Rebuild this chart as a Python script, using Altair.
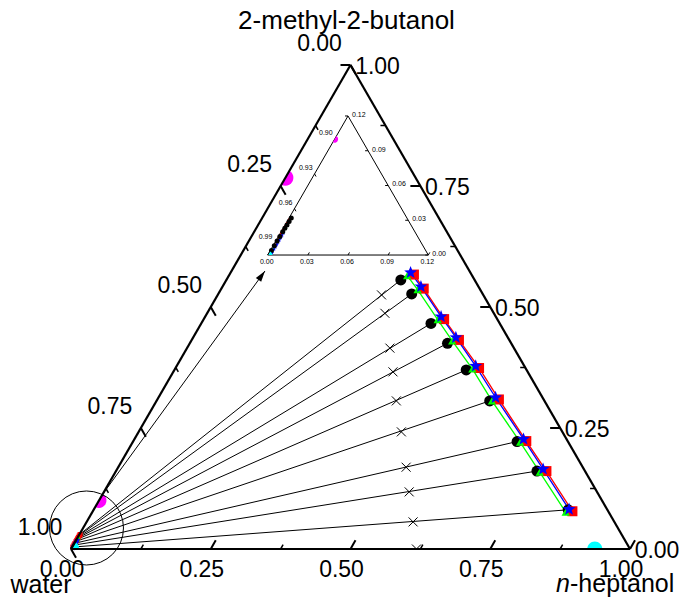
import math
import altair as alt
import numpy as np
import pandas as pd

S3 = math.sqrt(3) / 2

# ---------------- data (mole fractions) ----------------
# h = n-heptanol, b = 2-methyl-2-butanol, water = 1 - h - b
# organic phase, experimental (black circles)
exp_org_h = [0.312, 0.346, 0.411, 0.461, 0.522, 0.596, 0.687, 0.753, 0.849]
exp_org_b = [0.556, 0.527, 0.466, 0.425, 0.370, 0.306, 0.222, 0.161, 0.081]
# aqueous phase, experimental
exp_aq_h = [0.0016, 0.0015, 0.0014, 0.0013, 0.0012, 0.0011, 0.0010, 0.0009, 0.0008]
exp_aq_b = [0.032, 0.029, 0.026, 0.023, 0.020, 0.016, 0.012, 0.008, 0.004]
# feed compositions (crosses)
feed_h = [0.293, 0.318, 0.363, 0.393, 0.429, 0.470, 0.515, 0.546, 0.584]
feed_b = [0.525, 0.487, 0.415, 0.366, 0.306, 0.242, 0.169, 0.118, 0.056]
feed_bin_h = [0.618]
# model 1 (red squares)
red_org_h = [0.330, 0.362, 0.430, 0.478, 0.543, 0.611, 0.703, 0.770, 0.858]
red_org_b = [0.567, 0.538, 0.475, 0.432, 0.374, 0.309, 0.223, 0.161, 0.078]
red_aq_h = [0.0012] * 9
red_aq_b = [0.030, 0.027, 0.024, 0.021, 0.018, 0.015, 0.011, 0.008, 0.004]
# model 2 (green triangles)
green_org_h = [0.319, 0.352, 0.419, 0.467, 0.532, 0.600, 0.693, 0.759, 0.847]
green_org_b = [0.565, 0.536, 0.474, 0.430, 0.372, 0.306, 0.221, 0.159, 0.076]
green_aq_h = [0.0016] * 9
green_aq_b = [0.024, 0.021, 0.019, 0.016, 0.014, 0.011, 0.008, 0.006, 0.003]
# model 3 (blue stars)
blue_org_h = [0.322, 0.355, 0.422, 0.470, 0.535, 0.603, 0.696, 0.762, 0.850]
blue_org_b = [0.571, 0.542, 0.480, 0.437, 0.378, 0.313, 0.227, 0.165, 0.082]
blue_aq_h = [0.0022] * 9
blue_aq_b = [0.019, 0.017, 0.015, 0.013, 0.011, 0.009, 0.007, 0.005, 0.002]
# binary systems
cyan_h = [0.0005, 0.937]          # water / n-heptanol
magenta_b = [0.100, 0.767]        # water / 2-methyl-2-butanol

major = [0.0, 0.25, 0.5, 0.75, 1.0]
minor = [0.125, 0.375, 0.625, 0.875]
major_labels = ["0.00", "0.25", "0.50", "0.75", "1.00"]
inset_vals = [0.0, 0.03, 0.06, 0.09, 0.12]
inset_labels = ["0.00", "0.03", "0.06", "0.09", "0.12"]
inset_water = [0.99, 0.96, 0.93, 0.90]
inset_water_labels = ["0.99", "0.96", "0.93", "0.90"]

# annotation compositions
zoom_circle = (0.006, 0.0434)
arrow_from = (0.0003, 0.1151)
arrow_to = (0.0598, 0.5744)
INSET_ORIGIN = (0.0482, 0.6074)
INSET_K = 2.394

# ---------------- layout ----------------
W, H = 559, 484
PXU = W  # pixels per data unit
FONT = "Liberation Sans"


def tern(h, b):
    h = np.asarray(h, float)
    b = np.asarray(b, float)
    return h + b / 2, b * S3


def tern_in(h, b):
    x0, y0 = tern(*INSET_ORIGIN)
    x, y = tern(h, b)
    return x0 + INSET_K * x, y0 + INSET_K * y


xs = alt.Scale(domain=[0, 1], nice=False, zero=False)
ys = alt.Scale(domain=[0, S3], nice=False, zero=False)


def XE():
    return alt.X("x:Q", scale=xs, axis=None)


def YE():
    return alt.Y("y:Q", scale=ys, axis=None)


def pts(x, y, **mark):
    df = pd.DataFrame({"x": np.atleast_1d(x), "y": np.atleast_1d(y)})
    mark.setdefault("opacity", 1)
    return alt.Chart(df).mark_point(**mark).encode(x=XE(), y=YE())


def segs(x, y, x2, y2, **mark):
    df = pd.DataFrame({"x": np.atleast_1d(x), "y": np.atleast_1d(y),
                       "x2": np.atleast_1d(x2), "y2": np.atleast_1d(y2)})
    return alt.Chart(df).mark_rule(**mark).encode(x=XE(), y=YE(), x2="x2:Q", y2="y2:Q")


def line(x, y, **mark):
    df = pd.DataFrame({"x": x, "y": y, "o": range(len(x))})
    return alt.Chart(df).mark_line(**mark).encode(x=XE(), y=YE(), order="o:Q")


def texts(x, y, t, **mark):
    df = pd.DataFrame({"x": np.atleast_1d(x), "y": np.atleast_1d(y), "t": t})
    mark.setdefault("font", FONT)
    return alt.Chart(df).mark_text(**mark).encode(x=XE(), y=YE(), text="t:N")


def edge_point(t, which):
    if which == "left":       # water fraction
        return 0.0, 1.0 - t
    if which == "bottom":     # heptanol fraction
        return t, 0.0
    return 1.0 - t, t         # right: butanol fraction


def edge_point_in(t, which):
    if which == "left":
        return 0.0, 1.0 - t
    if which == "bottom":
        return t, 0.0
    return 0.12 - t, t


DIRS = {"left": (0.5, -S3), "bottom": (0.5, S3), "right": (-1.0, 0.0)}


def ticks(vals, length_px, which, conv, **mark):
    x1, y1, x2, y2 = [], [], [], []
    dx, dy = DIRS[which]
    L = length_px / PXU
    for t in vals:
        h, b = edge_point(t, which) if conv is tern else edge_point_in(t, which)
        x, y = conv(h, b)
        x1.append(float(x)); y1.append(float(y))
        x2.append(float(x) + dx * L); y2.append(float(y) + dy * L)
    return segs(x1, y1, x2, y2, **mark)


# custom symbol paths
def star_path():
    p = []
    for k in range(10):
        r = 1.0 if k % 2 == 0 else 0.42
        a = math.radians(-90 + 36 * k)
        p.append(f"{r * math.cos(a):.4f},{r * math.sin(a):.4f}")
    return "M" + "L".join(p) + "Z"


STAR = star_path()
X_PATH = "M-1,-1L1,1M1,-1L-1,1"
HALF_X = "M-1,-1L0,0L1,-1"
SEMI_RIGHT = "M0,-1A1,1 0 0 1 0,1Z"
SEMI_UP = "M-1,0A1,1 0 0 1 1,0Z"
WEDGE = "M0,0L1,0A1,1 0 0 0 0.5,-0.866Z"
ARROW = "M0,0L0.3,1L-0.3,1Z"

layers = []

# tie lines
ax, ay = tern(exp_aq_h, exp_aq_b)
ox, oy = tern(exp_org_h, exp_org_b)
layers.append(segs(ax, ay, ox, oy, color="black", strokeWidth=1))

# model curves
for hh, bb, col in [(red_org_h, red_org_b, "#ff0000"),
                    (green_org_h, green_org_b, "#00ff00"),
                    (blue_org_h, blue_org_b, "#0000ff")]:
    x, y = tern(hh, bb)
    layers.append(line(list(x), list(y), color=col, strokeWidth=1.3))

# feed crosses
fx, fy = tern(feed_h, feed_b)
layers.append(pts(fx, fy, shape=X_PATH, size=81, filled=False, color="black", strokeWidth=1))
fbx, fby = tern(feed_bin_h, [0.0])
layers.append(pts(fbx, fby, shape=HALF_X, size=81, filled=False, color="black", strokeWidth=1))

# organic phase markers
layers.append(pts(ox, oy, shape="circle", size=121, filled=True, color="black", strokeWidth=0))
x, y = tern(red_org_h, red_org_b)
layers.append(pts(x, y, shape="square", size=100, filled=True, color="#ff0000", strokeWidth=0))
x, y = tern(green_org_h, green_org_b)
layers.append(pts(x, y, shape="triangle-up", size=70, filled=True, color="#00ff00", strokeWidth=0))
x, y = tern(blue_org_h, blue_org_b)
layers.append(pts(x, y, shape=STAR, size=180, filled=True, color="#0000ff", strokeWidth=0))

# aqueous markers (main)
x, y = tern(red_aq_h, red_aq_b)
layers.append(pts(x, y, shape="square", size=25, filled=True, color="#ff0000", strokeWidth=0))
x, y = tern(green_aq_h, green_aq_b)
layers.append(pts(x, y, shape="triangle-up", size=20, filled=True, color="#00ff00", strokeWidth=0))
x, y = tern(blue_aq_h, blue_aq_b)
layers.append(pts(x, y, shape=STAR, size=36, filled=True, color="#0000ff", strokeWidth=0))

# binary points (clipped to the triangle: half discs / wedge)
mx, my = tern([0.0, 0.0], magenta_b)
layers.append(pts(mx[:1], my[:1], shape=SEMI_RIGHT, size=225, angle=30, filled=True,
                  color="#ff00ff", strokeWidth=0))
layers.append(pts(mx[1:], my[1:], shape=SEMI_RIGHT, size=256, angle=30, filled=True,
                  color="#ff00ff", strokeWidth=0))
cx, cy = tern(cyan_h, [0.0, 0.0])
layers.append(pts(cx[:1], cy[:1], shape=WEDGE, size=256, filled=True, color="#00ffff", strokeWidth=0))
layers.append(pts(cx[1:], cy[1:], shape=SEMI_UP, size=225, filled=True, color="#00ffff", strokeWidth=0))

# main triangle
vx, vy = tern([0, 1, 0], [0, 0, 1])
layers.append(segs(vx, vy, np.roll(vx, -1), np.roll(vy, -1), color="black", strokeWidth=2.2))
for which in ["left", "bottom", "right"]:
    layers.append(ticks(major, 10, which, tern, color="black", strokeWidth=2))
    layers.append(ticks(minor, 5, which, tern, color="black", strokeWidth=1.5))

# zoom circle + arrow
zx, zy = tern(*zoom_circle)
layers.append(pts([float(zx)], [float(zy)], shape="circle", size=74 * 74, filled=False,
                  color="black", strokeWidth=1))
a0x, a0y = tern(*arrow_from)
a1x, a1y = tern(*arrow_to)
layers.append(segs([float(a0x)], [float(a0y)], [float(a1x)], [float(a1y)], color="black", strokeWidth=1))
ang = math.degrees(math.atan2(float(a1x - a0x), float(a1y - a0y))) % 360
layers.append(pts([float(a1x)], [float(a1y)], shape=ARROW, size=484, angle=ang,
                  filled=True, color="black", strokeWidth=0))

# ---------------- inset ----------------
ivx, ivy = tern_in([0, 0.12, 0], [0, 0, 0.12])
layers.append(segs(ivx, ivy, np.roll(ivx, -1), np.roll(ivy, -1), color="black", strokeWidth=1))
layers.append(ticks(inset_water, 3, "left", tern_in, color="black", strokeWidth=1))
layers.append(ticks(inset_vals, 3, "bottom", tern_in, color="black", strokeWidth=1))
layers.append(ticks(inset_vals, 3, "right", tern_in, color="black", strokeWidth=1))

x, y = tern_in(red_aq_h, red_aq_b)
layers.append(pts(x, y, shape="square", size=9, filled=True, color="#ff0000", strokeWidth=0))
x, y = tern_in(green_aq_h, green_aq_b)
layers.append(pts(x, y, shape="triangle-up", size=9, filled=True, color="#00ff00", strokeWidth=0))
x, y = tern_in(blue_aq_h, blue_aq_b)
layers.append(pts(x, y, shape=STAR, size=20, filled=True, color="#0000ff", strokeWidth=0))
x, y = tern_in(exp_aq_h, exp_aq_b)
layers.append(pts(x, y, shape="circle", size=25, filled=True, color="black", strokeWidth=0))
x, y = tern_in([0.0], magenta_b[:1])
layers.append(pts(x, y, shape=SEMI_RIGHT, size=49, angle=30, filled=True, color="#ff00ff", strokeWidth=0))
x, y = tern_in(cyan_h[:1], [0.0])
layers.append(pts(x, y, shape=WEDGE, size=64, filled=True, color="#00ffff", strokeWidth=0))

# inset labels
lx, ly = tern_in([0.0] * 4, [1 - w for w in inset_water])
layers.append(texts(lx, ly, inset_water_labels, fontSize=7, align="right", baseline="middle", dx=-2, dy=-6))
bx, by = tern_in(inset_vals, [0.0] * 5)
layers.append(texts(bx, by, inset_labels, fontSize=7, align="center", baseline="middle", dx=-1, dy=7))
rx, ry = tern_in([0.12 - v for v in inset_vals], inset_vals)
layers.append(texts(rx, ry, inset_labels, fontSize=7, align="left", baseline="middle", dx=4, dy=-1))

# ---------------- main labels ----------------
lx, ly = tern([0.0] * 5, [1 - t for t in major])
layers.append(texts(lx, ly, major_labels, fontSize=23, align="center", baseline="middle", dx=-31, dy=-21))
bx, by = tern(major, [0.0] * 5)
layers.append(texts(bx, by, major_labels, fontSize=23, align="center", baseline="middle", dx=-9, dy=21))
rx, ry = tern([1 - t for t in major], major)
layers.append(texts(rx, ry, major_labels, fontSize=23, align="center", baseline="middle", dx=27, dy=2))

tx, ty = tern(0, 1)
layers.append(texts([float(tx)], [float(ty)], ["2-methyl-2-butanol"], fontSize=26, align="center",
                    baseline="middle", dx=-4, dy=-44))
wx, wy = tern(0, 0)
layers.append(texts([float(wx)], [float(wy)], ["water"], fontSize=25, align="center",
                    baseline="alphabetic", dx=-30, dy=44))
hx, hy = tern(1, 0)
layers.append(texts([float(hx)], [float(hy)], ["n"], fontSize=25, align="right", fontStyle="italic",
                    baseline="alphabetic", dx=-60, dy=43))
layers.append(texts([float(hx)], [float(hy)], ["-heptanol"], fontSize=25, align="left",
                    baseline="alphabetic", dx=-60, dy=43))

chart = alt.layer(*layers).properties(
    width=W, height=H,
    padding={"left": 63, "top": 57, "right": 50, "bottom": 49},
    autosize=alt.AutoSizeParams(type="none"),
).configure_view(stroke=None)

chart.save("out.html", embed_options={"renderer": "svg", "actions": False})
